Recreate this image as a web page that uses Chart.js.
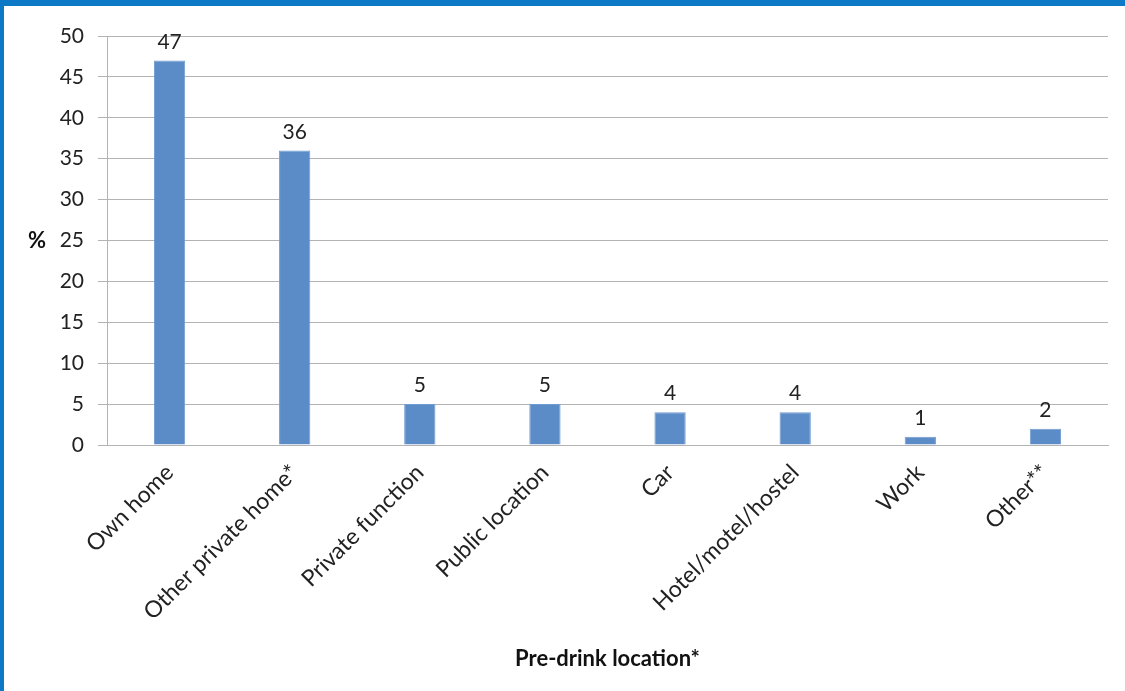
<!DOCTYPE html>
<html>
<head>
<meta charset="utf-8">
<script src="https://cdn.jsdelivr.net/npm/chart.js@4.4.1/dist/chart.umd.min.js"></script>
<style>
  html, body { margin: 0; padding: 0; background: #fff; }
  #wrap { position: relative; width: 1125px; height: 691px; overflow: hidden; }
  #topbar { position: absolute; left: 0; top: 0; width: 1125px; height: 6px; background: #0b79c5; }
  #leftbar { position: absolute; left: 0; top: 0; width: 4px; height: 691px; background: #0b79c5; }
  canvas { position: absolute; left: 0; top: 0; }
</style>
</head>
<body>
<div id="wrap">
  <canvas id="chart" width="1125" height="691"></canvas>
  <div id="topbar"></div>
  <div id="leftbar"></div>
</div>
<script>
const categories = ["Own home", "Other private home*", "Private function", "Public location",
  "Car", "Hotel/motel/hostel", "Work", "Other**"];
const percentValues = [47, 36, 5, 5, 4, 4, 1, 2];
const yTicks = [0, 5, 10, 15, 20, 25, 30, 35, 40, 45, 50];

const FONT = "Lato, 'Open Sans', sans-serif";
const GRID = "#b3b3b3";

// value labels above each bar
const barLabels = {
  id: "barLabels",
  afterDatasetsDraw(chart) {
    const ctx = chart.ctx;
    const meta = chart.getDatasetMeta(0);
    ctx.save();
    ctx.font = "21px " + FONT;
    ctx.fillStyle = "#222";
    ctx.textAlign = "center";
    ctx.textBaseline = "alphabetic";
    meta.data.forEach((bar, i) => {
      ctx.fillText(String(percentValues[i]), bar.x, bar.y - 12);
    });
    ctx.restore();
  },
};

// horizontal "%" axis title
const yTitle = {
  id: "yTitle",
  afterDraw(chart) {
    const ctx = chart.ctx;
    const y = chart.scales.y;
    ctx.save();
    ctx.font = "bold 22px " + FONT;
    ctx.fillStyle = "#111";
    ctx.textAlign = "center";
    ctx.textBaseline = "middle";
    ctx.fillText("%", 37, y.getPixelForValue(25));
    ctx.restore();
  },
};

new Chart(document.getElementById("chart"), {
  type: "bar",
  data: {
    labels: categories,
    datasets: [{
      data: percentValues,
      backgroundColor: "#5b8cc8",
      borderColor: "#6f9bd0",
      borderWidth: 1,
      barPercentage: 0.5,
      categoryPercentage: 0.5,
    }],
  },
  options: {
    responsive: false,
    animation: false,
    layout: { padding: { top: 36, right: 17, bottom: 0, left: 0 } },
    plugins: { legend: { display: false }, tooltip: { enabled: false } },
    scales: {
      y: {
        min: 0,
        max: 50,
        afterFit(scale) { scale.width = 107; },
        afterBuildTicks(scale) { scale.ticks = yTicks.map(v => ({ value: v })); },
        grid: { color: GRID, lineWidth: 1, tickLength: 9, drawTicks: true },
        border: { color: GRID, width: 1 },
        ticks: { font: { family: FONT, size: 21 }, color: "#222", padding: 14 },
      },
      x: {
        afterFit(scale) { scale.height = 246; },
        grid: { display: false },
        border: { color: GRID, width: 1 },
        ticks: {
          font: { family: FONT, size: 23 },
          color: "#222",
          minRotation: 45,
          maxRotation: 45,
          autoSkip: false,
          padding: 6,
        },
        title: {
          display: true,
          text: "Pre-drink location*",
          font: { family: FONT, size: 22, weight: "bold" },
          color: "#111",
          padding: { top: 0, bottom: 19 },
        },
      },
    },
  },
  plugins: [barLabels, yTitle],
});
</script>
</body>
</html>
